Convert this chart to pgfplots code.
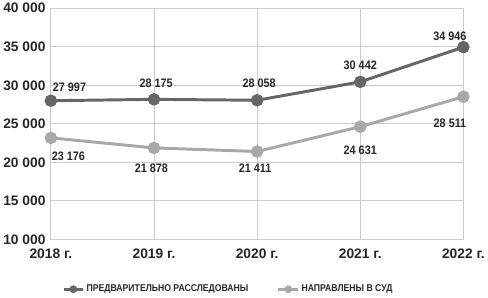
\documentclass[border=0pt]{standalone}
\usepackage{fontspec}
\setmainfont{Liberation Sans}
\newfontfamily\narrowfont{Liberation Sans}[FakeStretch=0.88]
\usepackage{pgfplots}
\pgfplotsset{compat=1.18}
\definecolor{darkser}{HTML}{666666}
\definecolor{lightser}{HTML}{A8A8A8}
\definecolor{gridc}{HTML}{CCCCCC}
\begin{document}
\begin{tikzpicture}
\begin{axis}[
  scale only axis, width=419pt, height=235pt,
  xmin=0, xmax=4, ymin=10000, ymax=40000,
  scaled y ticks=false,
  xtick={0,1,2,3,4},
  xticklabels={2018 г.,2019 г.,2020 г.,2021 г.,2022 г.},
  ytick={10000,15000,20000,25000,30000,35000,40000},
  yticklabels={10 000,15 000,20 000,25 000,30 000,35 000,40 000},
  tick label style={font=\fontsize{14}{16}\selectfont\bfseries, text=black!85},
  xticklabel style={yshift=-6pt},
  yticklabel style={xshift=-2pt},
  major tick length=0pt,
  grid=major,
  grid style={gridc, line width=1pt},
  axis line style={gridc, line width=1pt},
  clip=false,
  legend columns=2,
  legend style={draw=none, fill=none, at={(0.43,-0.215)}, anchor=center,
    font=\narrowfont\fontsize{10}{12}\selectfont\bfseries, text=black!85,
    /tikz/every even column/.append style={column sep=27pt}},
  legend image code/.code={
    \draw[#1, line width=3pt] (0pt,0pt) -- (20pt,0pt);
    \draw[#1, fill, draw=none] (10pt,0pt) circle (4pt);
  },
]
\addplot[darkser, line width=3pt, mark=*, mark size=4.8pt, mark options={draw=none, fill=darkser}]
  coordinates {(0,27997) (1,28175) (2,28058) (3,30442) (4,34946)};
\addlegendentry{ПРЕДВАРИТЕЛЬНО РАССЛЕДОВАНЫ}
\addplot[lightser, line width=3pt, mark=*, mark size=4.8pt, mark options={draw=none, fill=lightser}]
  coordinates {(0,23176) (1,21878) (2,21411) (3,24631) (4,28511)};
\addlegendentry{НАПРАВЛЕНЫ В СУД}
\begin{scope}[every node/.style={font=\narrowfont\fontsize{12.5}{14}\selectfont\bfseries, text=black!85, inner sep=0pt}]
\node[anchor=west] at (axis cs:0.018,29750) {27 997};
\node at (axis cs:1.02,30200) {28 175};
\node at (axis cs:2.02,30250) {28 058};
\node at (axis cs:3.0,32600) {30 442};
\node at (axis cs:3.87,36400) {34 946};
\node[anchor=west] at (axis cs:0.008,20800) {23 176};
\node at (axis cs:0.975,19300) {21 878};
\node at (axis cs:1.98,19200) {21 411};
\node at (axis cs:3.0,21600) {24 631};
\node at (axis cs:3.87,25100) {28 511};
\end{scope}
\end{axis}
\end{tikzpicture}
\end{document}
